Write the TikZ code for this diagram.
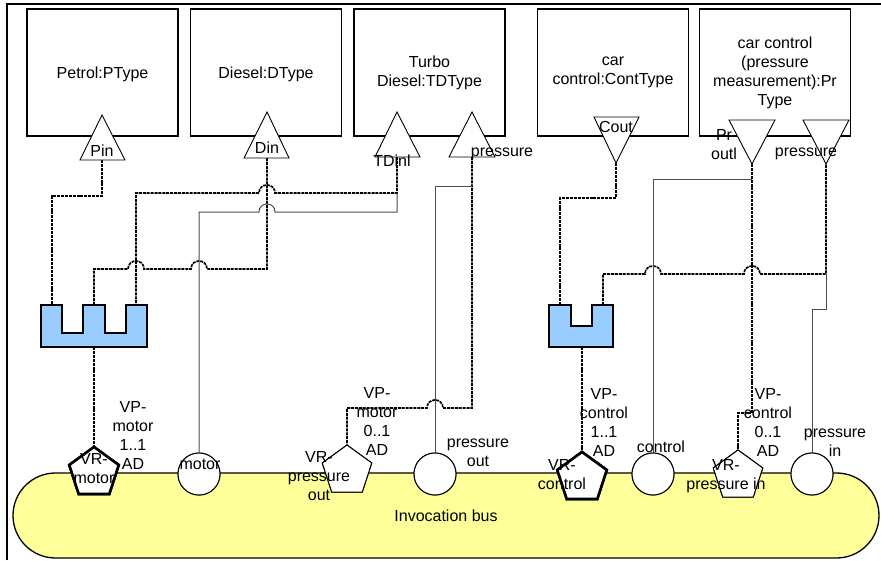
\documentclass[tikz,border=0pt]{standalone}
\usepackage{fontspec}
\setmainfont{Liberation Sans}
\usetikzlibrary{shapes.geometric,shapes.misc}
\definecolor{busyellow}{HTML}{FFFF99}
\definecolor{ublue}{HTML}{99CCFF}
\definecolor{solgray}{HTML}{4D4D4D}
\begin{document}
\begin{tikzpicture}[x=1pt,y=-1pt,
  txt/.style={font=\fontsize{16pt}{19pt}\selectfont, inner sep=0pt, align=center},
  one/.style={txt, text height=11.5pt, text depth=0pt},
  box/.style={draw, line width=1.3pt, minimum width=151pt, minimum height=127pt, inner sep=0pt, txt},
  bus/.style={rounded rectangle, draw, line width=1.3pt, fill=busyellow, minimum width=866pt, minimum height=85pt, inner sep=0pt, one},
  pent/.style={regular polygon, regular polygon sides=5, minimum size=52pt, inner sep=0pt, draw, fill=white, line width=1pt},
  thickpent/.style={pent, line width=2.6pt},
  port/.style={circle, draw, fill=white, minimum size=42pt, inner sep=0pt, line width=1pt},
  tri/.style={draw, fill=white, line width=0.9pt, line join=miter},
  ushape/.style={draw, fill=ublue, line width=1.6pt},
  dsh/.style={line width=1.7pt, dash pattern=on 3pt off 0.9pt, black},
  sol/.style={line width=1pt, solgray}
]
\useasboundingbox (0,0) rectangle (881,560);
% frame
\draw[line width=2pt] (7,560) -- (7,4) -- (881,4);
% bus
\node[bus] (bus) at (446,515.5) {Invocation bus};
% boxes
\node[box, one] (petrol) at (102.5,72.5) {Petrol:PType};
\node[box, one] (diesel) at (266,72.5) {Diesel:DType};
\node[box] (turbo) at (429.5,72.5) {Turbo\\Diesel:TDType};
\node[box] (carctrl) at (613,72.5) {car\\control:ContType};
\node[box] (prtype) at (775,72.5) {car control\\(pressure\\measurement):Pr\\Type};
% connection points
\coordinate (pinB) at (102,160);
\coordinate (dinB) at (267,158);
\coordinate (tdinB) at (397,157);
\coordinate (tprB) at (472,157);
\coordinate (coutA) at (616,163);
\coordinate (proutA) at (752,164);
\coordinate (prA) at (826,164);
\coordinate (u1p1) at (52,305);
\coordinate (u1p2) at (94,305);
\coordinate (u1p3) at (136,305);
\coordinate (u1b) at (94,347);
\coordinate (u2p1) at (560,305);
\coordinate (u2p2) at (603,305);
\coordinate (u2b) at (582,347);
% ports on bus
\node[port] (cmotor) at (199,474) {};
\node[port] (cpout) at (435,474) {};
\node[port] (cctrl) at (653,474) {};
\node[port] (cpin) at (812,474) {};
\node[thickpent] (vrmotor) at (94,473) {};
\node[pent] (vrpout) at (347,471) {};
\node[thickpent] (vrctrl) at (582,478) {};
\node[pent] (vrpin) at (738,476) {};
% connectors
\draw[dsh] (pinB) -- (102,196) -- (52,196) -- (u1p1);
\draw[dsh] (dinB) -- (267,269) -- (207,269) .. controls (207,258.3) and (191,258.3) .. (191,269) -- (144,269) .. controls (144,258.3) and (128,258.3) .. (128,269) -- (94,269) -- (u1p2);
\draw[dsh] (tdinB) -- (397,193) -- (275,193) .. controls (275,182.3) and (259,182.3) .. (259,193) -- (136,193) -- (u1p3);
\draw[sol] (cmotor.north) -- (199,212) -- (259,212) .. controls (259,201.3) and (275,201.3) .. (275,212) -- (397,212) -- (397,193);
\draw[dsh] (tprB) -- (472,408) -- (443,408) .. controls (443,397.3) and (427,397.3) .. (427,408) -- (347,408) -- (vrpout.corner 1);
\draw[sol] (cpout.north) -- (435,186) -- (472,186);
\draw[dsh] (u1b) -- (vrmotor.corner 1);
\draw[dsh] (coutA) -- (616,198) -- (560,198) -- (u2p1);
\draw[dsh] (u2p2) -- (603,274) -- (645,274) .. controls (645,263.3) and (661,263.3) .. (661,274) -- (744,274) .. controls (744,263.3) and (760,263.3) .. (760,274) -- (826,274) -- (prA);
\draw[sol] (cpin.north) -- (812,309) -- (826,309) -- (826,274);
\draw[sol] (cctrl.north) -- (653,179) -- (752,179);
\draw[dsh] (proutA) -- (752,413) -- (738,413) -- (vrpin.corner 1);
\draw[dsh] (u2b) -- (vrctrl.corner 1);
% redraw port shapes over connector ends
\node[port] at (cmotor) {};
\node[port] at (cpout) {};
\node[port] at (cctrl) {};
\node[port] at (cpin) {};
\node[thickpent] at (vrmotor) {};
\node[pent] at (vrpout) {};
\node[thickpent] at (vrctrl) {};
\node[pent] at (vrpin) {};
% U connectors
\draw[ushape] (41,305) -- (62,305) -- (62,333) -- (83,333) -- (83,305) -- (105,305) -- (105,333) -- (126,333) -- (126,305) -- (147,305) -- (147,347) -- (41,347) -- cycle;
\draw[ushape] (549,305) -- (571,305) -- (571,326) -- (592,326) -- (592,305) -- (613,305) -- (613,347) -- (549,347) -- cycle;
% triangles
\draw[tri] (80,160) -- (125,160) -- (102,115) -- cycle;
\draw[tri] (244,158) -- (289,158) -- (267,112) -- cycle;
\draw[tri] (375,157) -- (420,157) -- (397,112) -- cycle;
\draw[tri] (449,157) -- (495,157) -- (472,112) -- cycle;
\draw[tri] (594,117) -- (639,117) -- (616,163) -- cycle;
\draw[tri] (729,120) -- (775,120) -- (752,164) -- cycle;
\draw[tri] (803,120) -- (849,120) -- (826,164) -- cycle;
% triangle labels
\node[one] (lpin) at (102,151) {Pin};
\node[one] (ldin) at (267,148) {Din};
\node[one] (ltdin) at (392,161) {TDinl};
\node[one] (ltpr) at (502,151) {pressure};
\node[one] (lcout) at (616,127) {Cout};
\node[txt] (lprout) at (724,144.5) {Pr\\outl};
\node[one] (lpr) at (806,151) {pressure};
% bus labels
\node[txt] (lvrmotor) at (94,468.5) {VR-\\motor};
\node[txt] (lvrpout) at (319,476.5) {VR-\\pressure\\out};
\node[txt] (lvrctrl) at (562,474.5) {VR-\\control};
\node[txt] (lvrpin) at (726,476) {VR-\\pressure in};
\node[one] (lmotor) at (200,464) {motor};
\node[txt] (lpout) at (478,452.5) {pressure\\out};
\node[one] (lctrl) at (661,447) {control};
\node[txt] (lpin2) at (835,442.5) {pressure\\in};
\node[txt] (lvp1) at (133,435.5) {VP-\\motor\\1..1\\AD};
\node[txt] (lvp2) at (377,421) {VP-\\motor\\0..1\\AD};
\node[txt] (lvp3) at (604,422) {VP-\\control\\1..1\\AD};
\node[txt] (lvp4) at (768,422) {VP-\\control\\0..1\\AD};
\end{tikzpicture}
\end{document}
